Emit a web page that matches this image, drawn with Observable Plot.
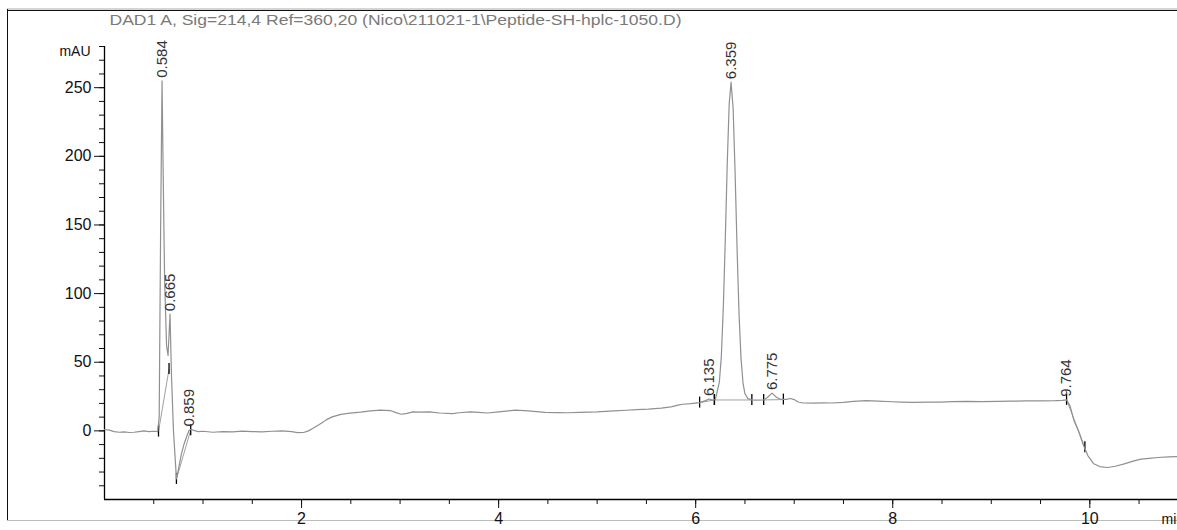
<!DOCTYPE html>
<html>
<head>
<meta charset="utf-8">
<script src="https://cdn.jsdelivr.net/npm/d3@7"></script>
<script src="https://cdn.jsdelivr.net/npm/@observablehq/plot@0.6"></script>
<style>
  html, body { margin: 0; padding: 0; background: #fff; }
  #chart { width: 1177px; height: 530px; overflow: hidden; }
</style>
</head>
<body>
<div id="chart"></div>
<script>
// DAD1 A chromatogram, signal 214 nm, reference 360 nm
const signalTitle = "DAD1 A, Sig=214,4 Ref=360,20 (Nico\\211021-1\\Peptide-SH-hplc-1050.D)";

// detector trace: retention time (min) and absorbance (mAU)
const traceTime = [
  0.00, 0.05, 0.10, 0.15, 0.20, 0.25, 0.30, 0.35, 0.40, 0.45, 0.50, 0.54,
  0.555, 0.57, 0.584, 0.595, 0.61, 0.63, 0.645, 0.665, 0.68, 0.70, 0.73,
  0.75, 0.78, 0.81, 0.84, 0.859, 0.88, 0.90, 0.95, 1.00, 1.10, 1.20, 1.30,
  1.40, 1.50, 1.60, 1.70, 1.80, 1.90, 1.96, 2.02, 2.07, 2.13, 2.20, 2.25,
  2.31, 2.40, 2.49, 2.60, 2.70, 2.80, 2.90, 2.95, 3.01, 3.07, 3.13, 3.20,
  3.30, 3.40, 3.53, 3.60, 3.71, 3.80, 3.89, 4.00, 4.10, 4.17, 4.30, 4.47,
  4.60, 4.70, 4.82, 5.00, 5.17, 5.30, 5.40, 5.52, 5.65, 5.75, 5.82, 5.87,
  5.95, 6.04, 6.10, 6.135, 6.17, 6.20, 6.24, 6.26, 6.28, 6.30, 6.32, 6.34,
  6.359, 6.38, 6.40, 6.42, 6.44, 6.46, 6.48, 6.50, 6.53, 6.57, 6.62, 6.69,
  6.73, 6.775, 6.82, 6.86, 6.92, 6.96, 7.00, 7.04, 7.09, 7.20, 7.30, 7.38,
  7.50, 7.60, 7.73, 7.85, 8.00, 8.08, 8.20, 8.35, 8.49, 8.60, 8.75, 8.90,
  9.07, 9.20, 9.35, 9.50, 9.65, 9.72, 9.764, 9.80, 9.84, 9.89, 9.93, 9.98,
  10.04, 10.10, 10.18, 10.26, 10.35, 10.44, 10.52, 10.60, 10.69, 10.80, 10.89
];
const traceMAU = [
  1.0, 0.5, -0.5, -1.0, -0.8, -1.2, -1.0, -0.5, 0.0, -0.5, -0.3, -0.5,
  10, 150, 255, 190, 110, 62, 55, 85, 40, 0, -35,
  -28, -17, -9, -3, 0.5, 1.0, 0.5, -0.5, -0.3, -1.0, -0.5, -0.8,
  -0.2, -0.5, -0.7, -0.3, 0.0, -0.5, -1.3, -1.2, 0.0, 2.4, 5.5, 8.0,
  10.2, 12.0, 12.9, 13.6, 14.5, 15.1, 14.8, 13.5, 12.1, 12.8, 13.8, 13.6,
  13.8, 13.0, 12.6, 13.2, 13.8, 13.5, 13.0, 13.8, 14.6, 15.1, 14.6, 13.4,
  13.3, 13.2, 13.4, 13.8, 14.6, 15.0, 15.4, 15.8, 16.5, 17.5, 18.8, 19.4,
  19.8, 20.6, 22.0, 23.2, 22.4, 22.8, 35.5, 53.8, 89, 138, 194, 238,
  254, 235, 188, 133, 85, 53, 35, 27, 23.5, 22.6, 22.4, 22.5,
  24.5, 27.5, 24.5, 23.0, 23.0, 23.6, 22.8, 21.0, 20.3, 20.2, 20.4, 20.3,
  20.8, 21.5, 22.0, 21.6, 21.2, 21.0, 20.8, 21.0, 21.0, 21.3, 21.5, 21.3,
  21.5, 21.6, 21.8, 21.9, 22.0, 22.2, 22.6, 18.0, 7.3, -1.0, -9.5, -18.0,
  -24.0, -26.0, -26.7, -25.8, -24.0, -22.0, -20.6, -20.0, -19.4, -19.0, -18.7
];

// integrated peaks: retention time label and apex height
const peakTime = [0.584, 0.665, 0.859, 6.135, 6.359, 6.775, 9.764];
const peakMAU  = [255, 85, 1.0, 23.2, 254, 27.5, 22.6];

// integration baselines: start/end time and level
const baseStartTime = [0.548, 0.730, 6.04, 6.19, 6.69, 9.764];
const baseStartMAU  = [-0.5, -35, 20.6, 22.5, 22.5, 22.6];
const baseEndTime   = [0.655, 0.875, 6.19, 6.57, 6.89, 9.95];
const baseEndMAU    = [45, 0.5, 22.5, 22.5, 22.8, -12];

// axis ticks
const yMajorTicks = [0, 50, 100, 150, 200, 250];
const yMinorTicks = d3.range(-40, 281, 10);
const xMajorTicks = [2, 4, 6, 8, 10];
const xMinorTicks = d3.range(0.5, 10.9, 0.5);

const trace = traceTime.map((t, i) => ({t, v: traceMAU[i]}));
const peaks = peakTime.map((t, i) => ({t, v: peakMAU[i]}));
const baselines = baseStartTime.map((t, i) => ({
  t1: t, v1: baseStartMAU[i], t2: baseEndTime[i], v2: baseEndMAU[i]
}));
const events = baselines.flatMap(b => [{t: b.t1, v: b.v1}, {t: b.t2, v: b.v2}]);

const chart = Plot.plot({
  width: 1177,
  height: 530,
  marginLeft: 104,
  marginRight: 0,
  marginTop: 46,
  marginBottom: 31,
  style: {fontFamily: "'Liberation Sans', Arial, sans-serif", background: "#fff", color: "#111"},
  x: {domain: [0, 10.89]},
  y: {domain: [-50, 280]},
  marks: [
    // minor and major ticks
    Plot.axisY({ticks: yMinorTicks, tickSize: 5, tickFormat: () => "", label: null}),
    Plot.axisY({ticks: yMajorTicks, tickSize: 10, tickPadding: 3, fontSize: 16, label: null}),
    Plot.axisX({ticks: xMinorTicks, tickSize: 5, tickFormat: () => "", label: null}),
    Plot.axisX({ticks: xMajorTicks, tickSize: 9, tickPadding: 4, fontSize: 16, label: null}),
    Plot.ruleX([0], {y1: -50, y2: 280, stroke: "#000", strokeWidth: 1.3}),
    Plot.ruleY([-50], {stroke: "#000", strokeWidth: 1.3}),
    // integration baselines and start/end markers
    Plot.link(baselines, {x1: "t1", y1: "v1", x2: "t2", y2: "v2", stroke: "#a0a0a0", strokeWidth: 1}),
    Plot.ruleX(events, {x: "t", y1: d => d.v - 4, y2: d => d.v + 4, stroke: "#000", strokeWidth: 1.3}),
    // detector signal
    Plot.line(trace, {x: "t", y: "v", stroke: "#909090", strokeWidth: 1.2}),
    // retention time labels
    Plot.text(peaks, {x: "t", y: "v", text: d => d.t.toFixed(3), rotate: -90, textAnchor: "start",
      dy: -3, fontSize: 15, fill: "#333"}),
    // header and unit labels
    Plot.text([signalTitle], {frameAnchor: "top-left", dx: 5, dy: -26, textAnchor: "start",
      lineAnchor: "middle", fontSize: 15, fill: "#7a7a7a"}),
    Plot.text(["mAU"], {frameAnchor: "top-left", dx: -14, dy: 5, textAnchor: "end",
      lineAnchor: "middle", fontSize: 14, fill: "#111"}),
    Plot.text(["min"], {frameAnchor: "bottom-right", dx: -16, dy: 20, textAnchor: "start",
      lineAnchor: "middle", fontSize: 14, fill: "#111"})
  ]
});

// report frame around the signal panel
const svg = d3.select(chart);
svg.insert("g", ":first-child").call(g => {
  g.append("line").attr("x1", 7).attr("x2", 1177).attr("y1", 9).attr("y2", 9).attr("stroke", "#aaa");
  g.append("line").attr("x1", 7).attr("x2", 1177).attr("y1", 10.5).attr("y2", 10.5).attr("stroke", "#111");
  g.append("line").attr("x1", 7.5).attr("x2", 7.5).attr("y1", 9).attr("y2", 520).attr("stroke", "#111");
  g.append("line").attr("x1", 7).attr("x2", 1177).attr("y1", 520.5).attr("y2", 520.5).attr("stroke", "#bbb");
});
svg.selectAll("text").filter(function () { return this.textContent === signalTitle; })
  .attr("textLength", 572).attr("lengthAdjust", "spacingAndGlyphs");

document.getElementById("chart").append(chart);
</script>
</body>
</html>
